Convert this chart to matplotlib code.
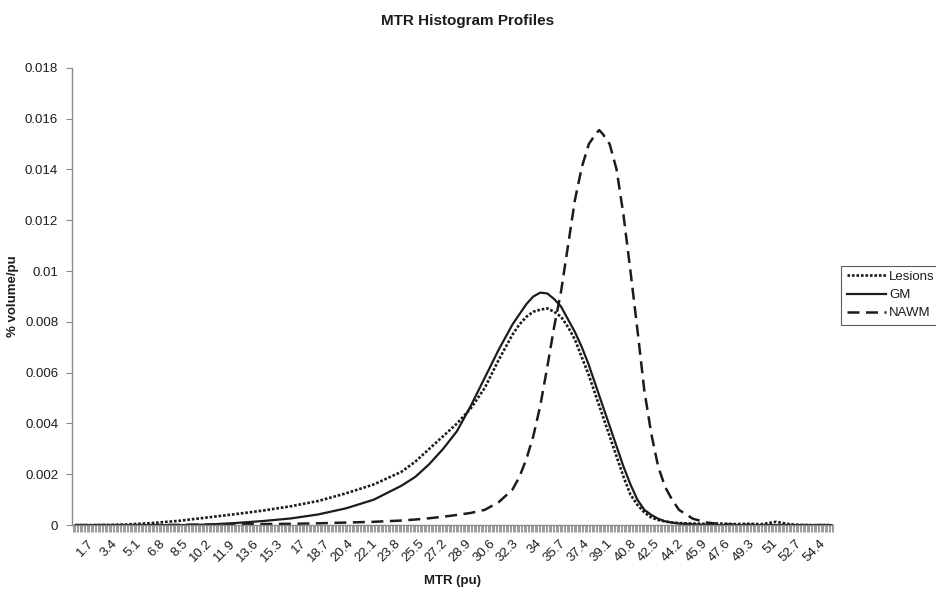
import matplotlib
matplotlib.use("Agg")
import matplotlib.pyplot as plt
from matplotlib.ticker import MultipleLocator

plt.rcParams["font.family"] = ["Liberation Sans", "DejaVu Sans"]

# MTR bin centres (pu) and volume fraction per pu for each tissue class
mtr = [0.5, 2, 4, 6, 8, 10, 12, 14, 16, 18, 20, 22,
       24, 25, 26, 27, 28, 29, 30, 31, 32,
       32.5, 33, 33.5, 34, 34.5, 35, 35.5, 36, 36.5, 37, 37.5, 38,
       38.25,
       38.5, 39, 39.5, 40, 40.5, 41, 41.5, 42, 42.5, 43, 43.5, 44,
       45, 46, 47, 48, 49, 50, 51, 52, 53, 54, 55]

lesions = [0, 0, 0.00002, 0.00008, 0.00017, 0.0003, 0.00043, 0.00057, 0.00074, 0.00095, 0.00125, 0.0016,
           0.0021, 0.0025, 0.003, 0.0035, 0.004, 0.0046, 0.0054, 0.0065, 0.0075,
           0.0079, 0.0082, 0.0084, 0.00848, 0.00853, 0.0084, 0.0082, 0.0078, 0.0073, 0.0066, 0.0059, 0.0051,
           0.0047,
           0.0043, 0.0035, 0.0027, 0.0019, 0.0012, 0.0008, 0.0005, 0.0003, 0.0002, 0.00014, 0.0001, 0.00008,
           0.00006, 0.00005, 0.00006, 0.00004, 0.00005, 0.00004, 0.00013, 0.00003, 0, 0, 0]

gm = [0, 0, 0, 0, 0, 0.00002, 0.00008, 0.00016, 0.00026, 0.00042, 0.00066, 0.001,
      0.00155, 0.0019, 0.0024, 0.003, 0.0037, 0.0047, 0.0058, 0.0069, 0.0079,
      0.0083, 0.0087, 0.009, 0.00915, 0.00912, 0.0089, 0.0086, 0.0081, 0.0076, 0.007, 0.0063, 0.0055,
      0.0051,
      0.0047, 0.0039, 0.0031, 0.0023, 0.0016, 0.001, 0.0006, 0.0004, 0.00025, 0.00015, 0.0001, 0.00006,
      0.00003, 0.00001, 0, 0, 0, 0, 0, 0, 0, 0, 0]

nawm = [0, 0, 0, 0, 0.00001, 0.00002, 0.00003, 0.00004, 0.00005, 0.00007, 0.0001, 0.00013,
        0.00018, 0.00022, 0.00027, 0.00033, 0.0004, 0.00048, 0.0006, 0.0009, 0.0014,
        0.0019, 0.0026, 0.0035, 0.0047, 0.0062, 0.0078, 0.0092, 0.011, 0.0128, 0.0141, 0.015, 0.0154,
        0.01555,
        0.0154, 0.015, 0.014, 0.0122, 0.01, 0.0077, 0.0053, 0.0036, 0.0023, 0.0015, 0.001, 0.0006,
        0.00025, 0.0001, 0.00004, 0.00002, 0.00001, 0, 0, 0, 0, 0, 0]

x_labels = ["1.7", "3.4", "5.1", "6.8", "8.5", "10.2", "11.9", "13.6", "15.3", "17",
            "18.7", "20.4", "22.1", "23.8", "25.5", "27.2", "28.9", "30.6", "32.3", "34",
            "35.7", "37.4", "39.1", "40.8", "42.5", "44.2", "45.9", "47.6", "49.3", "51",
            "52.7", "54.4"]
y_ticks = [0, 0.002, 0.004, 0.006, 0.008, 0.01, 0.012, 0.014, 0.016, 0.018]
y_labels = ["0", "0.002", "0.004", "0.006", "0.008", "0.01", "0.012", "0.014", "0.016", "0.018"]

ink = "#1c1c1c"
axis_grey = "#8a8a8a"

fig = plt.figure(figsize=(9.36, 5.9), dpi=100)
ax = fig.add_axes([0.077, 0.110, 0.813, 0.775])

ax.plot(mtr, lesions, color=ink, lw=1.9, linestyle=(0, (1, 0.7)), label="Lesions")
ax.plot(mtr, gm, color=ink, lw=1.6, label="GM")
ax.plot(mtr, nawm, color=ink, lw=1.8, linestyle=(0, (4.8, 2.6)), label="NAWM")

ax.set_xlim(0.26, 55.1)
ax.set_ylim(0, 0.018)

for side in ["top", "right"]:
    ax.spines[side].set_visible(False)
for side in ["left", "bottom"]:
    ax.spines[side].set_color(axis_grey)
    ax.spines[side].set_linewidth(1.0)

# category-style x axis: labels every 1.7 pu, a tick for every 0.1 pu bin
ax.set_xticks([float(v) for v in x_labels])
ax.set_xticklabels(x_labels, rotation=45, ha="right", va="center",
                   rotation_mode="anchor", fontsize=9.5, color=ink)
ax.xaxis.set_minor_locator(MultipleLocator(0.1))
ax.tick_params(axis="x", which="both", direction="out", length=5,
               width=0.6, color=axis_grey, pad=7)

ax.set_yticks(y_ticks)
ax.set_yticklabels(y_labels, fontsize=9.5, color=ink)
ax.tick_params(axis="y", direction="out", length=4, width=0.8, color=axis_grey, pad=6)

ax.set_xlabel("MTR (pu)", fontsize=9.5, fontweight="bold", color=ink, labelpad=8)
ax.set_ylabel("% volume/pu", fontsize=9.5, fontweight="bold", color=ink, labelpad=4)
fig.text(0.5, 0.964, "MTR Histogram Profiles", ha="center", va="center",
         fontsize=11, fontweight="bold", color=ink)

leg = fig.legend(loc="upper left", bbox_to_anchor=(0.899, 0.55), fontsize=9.5,
                 frameon=True, fancybox=False, handlelength=3.0, handletextpad=0.2,
                 labelspacing=0.45, borderpad=0.4, borderaxespad=0)
leg.get_frame().set_edgecolor("#333333")
leg.get_frame().set_linewidth(0.8)
for t in leg.get_texts():
    t.set_color(ink)

fig.savefig("out.png", dpi=100)
